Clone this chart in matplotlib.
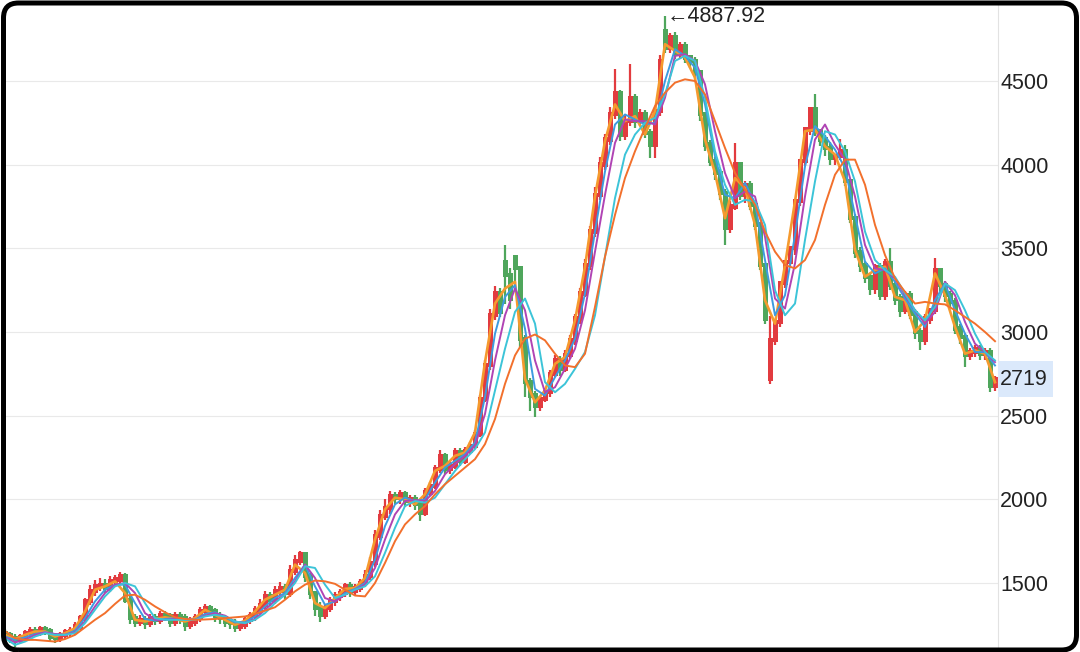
import numpy as np
import matplotlib
matplotlib.use("Agg")
from matplotlib import pyplot as plt
from matplotlib.patches import PathPatch, Rectangle
from matplotlib.path import Path
from matplotlib.transforms import IdentityTransform

plt.rcParams["font.family"] = ["Liberation Sans", "DejaVu Sans"]

# candles, one every 5 px of the picture
opens = [
    1200, 1190, 1170, 1160, 1175, 1200, 1215, 1205, 1225, 1210,
    1180, 1170, 1190, 1205, 1215, 1240, 1290, 1390, 1450, 1480,
    1490, 1470, 1510, 1520, 1540, 1400, 1290, 1270, 1280, 1260,
    1290, 1280, 1310, 1300, 1270, 1300, 1290, 1250, 1270, 1290,
    1330, 1350, 1330, 1300, 1290, 1270, 1260, 1240, 1250, 1280,
    1300, 1340, 1370, 1420, 1400, 1450, 1470, 1440, 1570, 1630,
    1670, 1540, 1440, 1350, 1310, 1350, 1390, 1420, 1440, 1480,
    1450, 1470, 1500, 1540, 1620, 1780, 1900, 1950, 2020, 2010,
    2030, 1990, 2000, 1970, 1920, 2040, 2080, 2180, 2260, 2180,
    2200, 2280, 2230, 2290, 2320, 2390, 2600, 2800, 3100, 3230,
    3420, 3340, 3450, 3380, 2960, 2700, 2620, 2560, 2600, 2640,
    2750, 2830, 2780, 2860, 2950, 3080, 3230, 3400, 3600, 3820,
    4000, 4150, 4300, 4430, 4180, 4260, 4400, 4260, 4300, 4190,
    4120, 4320, 4800, 4700, 4760, 4660, 4710, 4640, 4620, 4550,
    4300, 4120, 4020, 3950, 3830, 3620, 3750, 4000, 3820, 3880,
    3760, 3640, 3400, 2720, 2950, 3060, 3290, 3420, 3500, 3780,
    4020, 4210, 4330, 4200, 4150, 4100, 4040, 4050, 4080, 3900,
    3680, 3480, 3400, 3330, 3260, 3390, 3220, 3410, 3280, 3200,
    3130, 3220, 3110, 3000, 2950, 3080, 3130, 3370, 3280, 3220,
    3180, 3020, 2970, 2860, 2880, 2900, 2870, 2880, 2680,
]
closes = [
    1190, 1170, 1160, 1175, 1200, 1215, 1205, 1225, 1210, 1180,
    1170, 1190, 1205, 1215, 1240, 1290, 1390, 1450, 1480, 1490,
    1470, 1510, 1520, 1540, 1400, 1290, 1270, 1280, 1260, 1290,
    1280, 1310, 1300, 1270, 1300, 1290, 1250, 1270, 1290, 1330,
    1350, 1330, 1300, 1290, 1270, 1260, 1240, 1250, 1280, 1300,
    1340, 1370, 1420, 1400, 1450, 1470, 1440, 1570, 1630, 1670,
    1540, 1440, 1350, 1310, 1350, 1390, 1420, 1440, 1480, 1450,
    1470, 1500, 1540, 1620, 1780, 1900, 1950, 2020, 2010, 2030,
    1990, 2000, 1970, 1920, 2040, 2080, 2180, 2260, 2180, 2200,
    2280, 2230, 2290, 2320, 2390, 2600, 2800, 3100, 3230, 3120,
    3340, 3200, 3380, 2960, 2700, 2620, 2560, 2600, 2640, 2750,
    2830, 2780, 2860, 2950, 3080, 3230, 3400, 3600, 3820, 4000,
    4150, 4300, 4430, 4180, 4260, 4400, 4260, 4300, 4190, 4120,
    4320, 4620, 4700, 4760, 4660, 4710, 4640, 4620, 4550, 4300,
    4120, 4020, 3950, 3830, 3620, 3750, 4000, 3820, 3880, 3760,
    3640, 3400, 3080, 2950, 3060, 3290, 3420, 3500, 3780, 4020,
    4210, 4330, 4200, 4150, 4100, 4040, 4050, 4080, 3900, 3680,
    3480, 3400, 3330, 3260, 3390, 3220, 3410, 3280, 3200, 3130,
    3220, 3110, 3000, 2950, 3080, 3130, 3370, 3280, 3220, 3180,
    3020, 2970, 2860, 2880, 2900, 2870, 2880, 2680, 2719,
]
highs = [
    1225, 1210, 1195, 1195, 1220, 1240, 1240, 1245, 1245, 1230,
    1200, 1210, 1225, 1235, 1265, 1310, 1410, 1490, 1515, 1530,
    1525, 1540, 1550, 1565, 1560, 1420, 1315, 1310, 1305, 1315,
    1315, 1335, 1335, 1320, 1325, 1325, 1315, 1295, 1315, 1355,
    1375, 1370, 1350, 1325, 1310, 1295, 1285, 1275, 1305, 1325,
    1365, 1405, 1450, 1445, 1485, 1505, 1495, 1605, 1665, 1690,
    1680, 1560, 1450, 1385, 1375, 1415, 1445, 1465, 1500, 1505,
    1495, 1525, 1575, 1655, 1815, 1935, 2005, 2050, 2045, 2055,
    2050, 2025, 2025, 1995, 2065, 2105, 2205, 2295, 2275, 2225,
    2305, 2305, 2315, 2345, 2415, 2625, 2835, 3135, 3275, 3265,
    3520, 3385, 3460, 3395, 2985, 2725, 2645, 2615, 2665, 2775,
    2865, 2855, 2895, 2985, 3105, 3265, 3435, 3635, 3865, 4045,
    4185, 4345, 4570, 4445, 4295, 4600, 4425, 4335, 4325, 4215,
    4345, 4655, 4887.92, 4785, 4795, 4735, 4735, 4655, 4645, 4565,
    4315, 4145, 4045, 3975, 3855, 3785, 4130, 4015, 3905, 3905,
    3775, 3655, 3415, 3095, 3005, 3085, 3305, 3445, 3535, 3815,
    4055, 4245, 4420, 4215, 4175, 4135, 4065, 4155, 4115, 3915,
    3705, 3505, 3425, 3355, 3405, 3415, 3435, 3500, 3305, 3225,
    3245, 3245, 3135, 3025, 3105, 3145, 3440, 3385, 3305, 3245,
    3205, 3045, 2995, 2905, 2925, 2925, 2905, 2905, 2735,
]
lows = [
    1165, 1140, 1120, 1135, 1155, 1180, 1180, 1185, 1190, 1155,
    1140, 1150, 1165, 1180, 1190, 1220, 1270, 1370, 1425, 1450,
    1440, 1445, 1480, 1490, 1380, 1255, 1235, 1245, 1225, 1235,
    1250, 1255, 1270, 1235, 1245, 1255, 1215, 1225, 1245, 1265,
    1305, 1305, 1265, 1255, 1235, 1225, 1205, 1215, 1225, 1255,
    1275, 1315, 1345, 1365, 1375, 1425, 1405, 1415, 1545, 1605,
    1505, 1405, 1305, 1265, 1285, 1325, 1365, 1395, 1415, 1415,
    1425, 1445, 1475, 1515, 1595, 1755, 1875, 1915, 1975, 1975,
    1955, 1955, 1935, 1870, 1900, 2020, 2060, 2160, 2150, 2150,
    2180, 2200, 2210, 2270, 2300, 2370, 2580, 2770, 3070, 3090,
    3170, 3140, 3290, 2910, 2610, 2530, 2490, 2530, 2580, 2610,
    2730, 2740, 2760, 2840, 2920, 3050, 3210, 3370, 3570, 3790,
    3970, 4120, 4270, 4140, 4150, 4230, 4220, 4230, 4160, 4040,
    4040, 4290, 4670, 4670, 4630, 4630, 4610, 4580, 4510, 4260,
    4080, 3990, 3910, 3790, 3520, 3590, 3730, 3790, 3770, 3730,
    3610, 3370, 3050, 2690, 2920, 3030, 3260, 3390, 3460, 3750,
    3990, 4180, 4170, 4110, 4050, 4000, 4000, 4030, 3870, 3650,
    3440, 3360, 3290, 3220, 3230, 3190, 3190, 3250, 3160, 3090,
    3110, 3080, 2960, 2890, 2920, 3050, 3110, 3230, 3180, 3150,
    2990, 2930, 2790, 2830, 2850, 2830, 2830, 2640, 2650,
]

# moving averages, one value every second candle
ma5 = [
    1190, 1165, 1190, 1210, 1210, 1180, 1200, 1230, 1330, 1460,
    1480, 1510, 1440, 1280, 1270, 1285, 1295, 1285, 1270, 1290,
    1340, 1310, 1280, 1250, 1275, 1330, 1400, 1430, 1460, 1610,
    1560, 1380, 1350, 1410, 1465, 1470, 1530, 1760, 1940, 2010,
    2000, 1970, 2030, 2170, 2200, 2260, 2280, 2400, 2820, 3170,
    3260, 3300, 2720, 2580, 2650, 2810, 2850, 3070, 3390, 3810,
    4140, 4360, 4260, 4290, 4180, 4320, 4720, 4680, 4640, 4520,
    4150, 3950, 3680, 3920, 3860, 3640, 3190, 3050, 3400, 3780,
    4200, 4210, 4110, 4060, 3900, 3490, 3330, 3370, 3390, 3210,
    3190, 3000, 3070, 3350, 3220, 3030, 2870, 2890, 2870, 2700,
]
ma10 = [
    1180, 1160, 1175, 1195, 1205, 1195, 1190, 1215, 1290, 1390,
    1460, 1490, 1490, 1380, 1285, 1275, 1285, 1290, 1280, 1280,
    1315, 1325, 1295, 1265, 1265, 1300, 1360, 1410, 1440, 1530,
    1610, 1480, 1370, 1390, 1440, 1465, 1500, 1640, 1840, 1970,
    2010, 1990, 2000, 2100, 2190, 2230, 2270, 2340, 2610, 2990,
    3210, 3280, 3020, 2660, 2620, 2730, 2830, 2960, 3230, 3600,
    3960, 4240, 4300, 4270, 4240, 4250, 4500, 4690, 4650, 4580,
    4360, 4050, 3820, 3800, 3890, 3770, 3430, 3100, 3220, 3580,
    3990, 4230, 4170, 4090, 3980, 3700, 3420, 3350, 3380, 3300,
    3200, 3110, 3030, 3190, 3290, 3130, 2990, 2880, 2880, 2800,
]
ma20 = [
    1175, 1145, 1160, 1190, 1205, 1195, 1190, 1205, 1270, 1360,
    1440, 1490, 1500, 1440, 1320, 1280, 1280, 1285, 1285, 1280,
    1305, 1320, 1305, 1270, 1260, 1285, 1340, 1395, 1430, 1510,
    1610, 1530, 1410, 1390, 1430, 1460, 1490, 1590, 1760, 1910,
    1990, 1995, 1990, 2050, 2150, 2210, 2260, 2320, 2510, 2830,
    3100, 3260, 3130, 2830, 2640, 2670, 2780, 2900, 3130, 3480,
    3820, 4130, 4270, 4260, 4260, 4240, 4400, 4650, 4660, 4620,
    4480, 4200, 3950, 3800, 3840, 3810, 3570, 3200, 3140, 3410,
    3810, 4150, 4240, 4120, 4030, 3810, 3520, 3380, 3370, 3320,
    3220, 3130, 3050, 3120, 3300, 3220, 3060, 2930, 2880, 2820,
]
ma30 = [
    1170, 1130, 1150, 1180, 1200, 1190, 1190, 1200, 1260, 1340,
    1420, 1480, 1500, 1480, 1380, 1290, 1280, 1280, 1280, 1280,
    1300, 1310, 1300, 1270, 1260, 1280, 1320, 1380, 1430, 1500,
    1600, 1590, 1490, 1410, 1430, 1460, 1480, 1540, 1680, 1830,
    1960, 1990, 1980, 2010, 2090, 2170, 2240, 2300, 2400, 2650,
    2900, 3120, 3200, 3050, 2700, 2640, 2690, 2780, 2880, 3100,
    3450, 3800, 4060, 4180, 4250, 4280, 4420, 4620, 4650, 4620,
    4400, 4080, 3880, 3760, 3790, 3780, 3640, 3250, 3100, 3170,
    3550, 3900, 4200, 4180, 4080, 3900, 3600, 3430, 3370, 3330,
    3230, 3130, 3070, 3150, 3290, 3250, 3130, 2990, 2880, 2830,
]
ma120 = [
    1213, 1170, 1160, 1160, 1155, 1150, 1165, 1190, 1235, 1280,
    1320, 1375, 1425, 1430, 1400, 1360, 1325, 1295, 1285, 1280,
    1282, 1285, 1290, 1295, 1300, 1315, 1335, 1355, 1400, 1450,
    1490, 1515, 1510, 1495, 1460, 1425, 1420, 1500, 1620, 1750,
    1850, 1910, 1960, 2030, 2090, 2140, 2190, 2240, 2330, 2480,
    2690, 2860, 2960, 2985, 2950, 2870, 2800, 2790, 2870, 3150,
    3450, 3700, 3920, 4080, 4220, 4350, 4430, 4490, 4510, 4500,
    4420, 4260, 4100, 3950, 3850, 3760, 3600, 3480, 3400, 3380,
    3430, 3550, 3760, 3940, 4030, 4030, 3880, 3640, 3460, 3320,
    3240, 3170, 3180, 3170, 3165, 3130, 3090, 3050, 3000, 2945,
]

y_ticks = [1500, 2000, 2500, 3000, 3500, 4000, 4500]
peak_label = 4887.92
last_label = 2719

candle_x = np.arange(len(closes))
ma_x = np.arange(len(ma5)) * 2

fig = plt.figure(figsize=(10.8, 6.52), dpi=100, facecolor="white")
ax = fig.add_axes([5 / 1080, 4 / 652, 993 / 1080, 648 / 652])
ax.set_xlim(0, 198.6)
ax.set_ylim(1111.6, 4984)
ax.patch.set_visible(False)

ax.set_yticks(y_ticks)
ax.yaxis.tick_right()
ax.tick_params(axis="y", length=0, pad=1.6, labelsize=15.5, labelcolor="#222222")
ax.set_xticks([])
ax.grid(axis="y", color="#e9e9e9", lw=0.8)
ax.set_axisbelow(True)
for side in ["top", "left", "bottom"]:
    ax.spines[side].set_visible(False)
ax.spines["right"].set_color("#e2e2e2")
ax.spines["right"].set_linewidth(0.8)

# red is up, green is down
colors = ["#e23b3f" if c >= o else "#4fa65c" for o, c in zip(opens, closes)]
ax.vlines(candle_x, lows, highs, colors=colors, lw=1.6, zorder=2)
body_low = np.minimum(opens, closes)
body_high = np.maximum(opens, closes)
ax.bar(candle_x, body_high - body_low + 25, 1.0, body_low - 12, color=colors, zorder=2)

ax.plot(ma_x, ma5, color="#f59a2e", lw=1.9, zorder=3)
ax.plot(ma_x, ma10, color="#3d9be0", lw=1.4, zorder=4)
ax.plot(ma_x, ma20, color="#b044b4", lw=1.4, zorder=5)
ax.plot(ma_x, ma30, color="#3cc4d8", lw=1.4, zorder=6)
ax.plot(ma_x, ma120, color="#f2702c", lw=1.4, zorder=7)

ax.text(132.3, peak_label, f"←{peak_label}", fontsize=15.5, color="#222222", va="center", ha="left", zorder=8)
band = ax.get_yaxis_transform()
ax.add_patch(Rectangle((1.0005, last_label - 105), 0.055, 210, transform=band, fc="#dbe9fb", ec="none",
                       clip_on=False, zorder=7.5))
ax.text(1.0022, last_label, str(last_label), transform=band, fontsize=15.5, color="#222222",
        va="center", ha="left", zorder=8, clip_on=False)
# the next label is cut by the top of the picture
ax.text(1.0022, 5000, "5000", transform=band, fontsize=15.5, color="#222222",
        va="center", ha="left", clip_on=False)


def rounded_box(x0, y0, x1, y1, r):
    verts = [(x0 + r, y0), (x0, y0), (x0, y0 + r), (x0, y1 - r), (x0, y1), (x0 + r, y1),
             (x1 - r, y1), (x1, y1), (x1, y1 - r), (x1, y0 + r), (x1, y0), (x1 - r, y0), (x0 + r, y0)]
    codes = [Path.MOVETO, Path.CURVE3, Path.CURVE3, Path.LINETO, Path.CURVE3, Path.CURVE3,
             Path.LINETO, Path.CURVE3, Path.CURVE3, Path.LINETO, Path.CURVE3, Path.CURVE3, Path.LINETO]
    return Path(verts, codes)


# rounded black frame, white outside of it
ring = rounded_box(3.5, 2, 1076.5, 649, 15)
outside = Path.make_compound_path(Path([(-2, -2), (1082, -2), (1082, 654), (-2, 654), (-2, -2)]), ring)
fig.add_artist(PathPatch(outside, fc="white", ec="none", transform=IdentityTransform(), zorder=20))
fig.add_artist(PathPatch(ring, fc="none", ec="black", lw=3.6, transform=IdentityTransform(), zorder=21))

fig.savefig("out.png", dpi=100)
